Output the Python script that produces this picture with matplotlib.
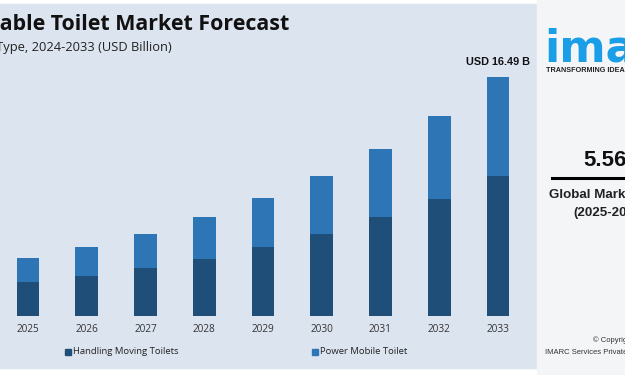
import matplotlib
matplotlib.use("Agg")
import matplotlib.pyplot as plt
from matplotlib.patches import Rectangle
from matplotlib.lines import Line2D

years = ["2025", "2026", "2027", "2028", "2029", "2030", "2031", "2032", "2033"]
handling = [2.35, 2.76, 3.31, 3.96, 4.76, 5.66, 6.83, 8.07, 9.66]
power = [1.63, 2.00, 2.37, 2.87, 3.38, 4.00, 4.70, 5.73, 6.83]
total_label = "USD 16.49 B"

DARK = "#1f4e79"
LIGHT = "#2e75b6"
PANEL = "#dce4f0"
SIDE = ["Liberation Sans", "DejaVu Sans"]

plt.rcParams["font.family"] = ["Open Sans", "DejaVu Sans"]

W, H = 625, 375
fig = plt.figure(figsize=(W / 100, H / 100), dpi=100)
fig.patch.set_facecolor("white")


def px(x, y):
    return x / W, 1 - y / H


# chart panel background + right info panel (behind the axes)
fig.patches.append(Rectangle((0, 1 - 368 / H), 537 / W, 364 / H,
                             transform=fig.transFigure, color=PANEL, zorder=-2))
fig.patches.append(Rectangle((537 / W, 0), 88 / W, 1, transform=fig.transFigure,
                             color="#f3f5f7", zorder=-2))

ax = fig.add_axes([0, (H - 316) / H, 537 / W, 311 / H])
ax.set_facecolor("none")
x = list(range(len(years)))
ax.bar(x, handling, width=0.39, color=DARK, zorder=2)
ax.bar(x, power, width=0.39, bottom=handling, color=LIGHT, zorder=2)
ax.set_xlim(-28 / 58.75, 509 / 58.75)
ax.set_ylim(0, 311 / 14.49)
ax.axhline(0, color="#c5cedb", lw=0.8, xmax=0.97, zorder=1)
for s in ax.spines.values():
    s.set_visible(False)
ax.set_yticks([])
ax.set_xticks(x)
ax.set_xticklabels(years, fontsize=7.2, color="#333333")
ax.tick_params(axis="x", length=0, pad=6)
ax.annotate(total_label, (x[-1], handling[-1] + power[-1]), xytext=(0, 7),
            textcoords="offset points", ha="center", va="bottom",
            fontsize=7.8, fontweight="bold", color="#111111", family=SIDE)

# titles (cropped at the left edge as in the source)
fig.text(*px(289, 25), "Portable Toilet Market Forecast", ha="right", va="center",
         fontsize=15.4, fontweight="bold", color="#111111")
fig.text(*px(172, 48), "By Type, 2024-2033 (USD Billion)", ha="right", va="center",
         fontsize=9.3, color="#222222")

# legend
for lx, label, c in [(65, "Handling Moving Toilets", DARK), (312, "Power Mobile Toilet", LIGHT)]:
    fig.patches.append(Rectangle(px(lx, 355), 6 / W, 6 / H, transform=fig.transFigure,
                                 color=c, zorder=3))
    fig.text(*px(lx + 8, 352), label, ha="left", va="center", fontsize=6.8, color="#222222")

# right panel content
fig.text(*px(544, 62), "imarc", ha="left", va="baseline", fontsize=32,
         fontweight="bold", color="#1a9ee8", family="DejaVu Sans")
fig.text(*px(546, 70), "TRANSFORMING IDEAS INTO IMPACT", ha="left", va="center",
         fontsize=5.2, fontweight="bold", color="#222222", family=SIDE)
fig.text(*px(583, 160), "5.56%", ha="left", va="center", fontsize=16,
         fontweight="bold", color="#111111", family=SIDE)
fig.lines.append(Line2D([552 / W, 1], [1 - 178 / H] * 2, transform=fig.transFigure,
                        color="black", lw=2.2))
fig.text(*px(549, 195), "Global Market Growth Rate", ha="left", va="center",
         fontsize=9.6, fontweight="bold", color="#222222", family=SIDE)
fig.text(*px(573, 213), "(2025-2033)", ha="left", va="center",
         fontsize=9.6, fontweight="bold", color="#222222", family=SIDE)
fig.text(*px(593, 340), "© Copyright", ha="left", va="center", fontsize=5.5,
         color="#333333", family=SIDE)
fig.text(*px(545, 352), "IMARC Services Private Limited", ha="left", va="center",
         fontsize=5.5, color="#333333", family=SIDE)

fig.savefig("out.png", dpi=100)
